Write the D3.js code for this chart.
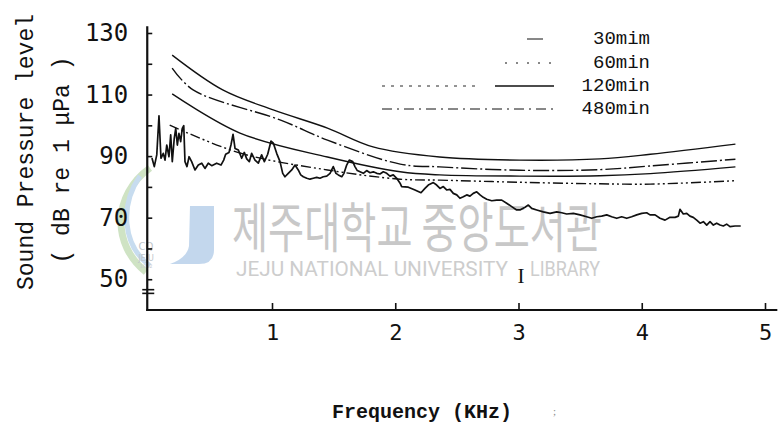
<!DOCTYPE html>
<html>
<head>
<meta charset="utf-8">
<script src="https://cdn.jsdelivr.net/npm/d3@7"></script>
<style>
  html, body { margin: 0; padding: 0; background: #fff; }
  svg { display: block; }
</style>
</head>
<body>
<svg id="chart" width="784" height="432"></svg>
<script>
// ---- data -------------------------------------------------------------
const freqTicks = [1, 2, 3, 4, 5];                       // kHz
const levelTicks = [50, 60, 70, 80, 90, 100, 110, 120, 130];
const levelLabels = [50, 70, 90, 110, 130];
const seriesNames = ["30mim", "60min", "120min", "480min"];

// threshold curves: [kHz, dB]
const curve30 = [[0.19,122.8],[0.60,111.5],[1.01,105.0],[1.45,99.1],[1.82,93.0],[2.36,89.7],[3.01,88.7],[3.66,89.1],[4.07,90.6],[4.76,93.9]];
const curve60 = [[0.19,118.6],[0.36,111.5],[1.07,101.7],[1.45,95.2],[2.04,87.4],[2.36,86.5],[3.01,85.4],[3.66,85.6],[4.07,86.8],[4.76,89.0]];
const curve120 = [[0.19,110.2],[0.74,97.5],[1.45,89.7],[2.04,84.9],[2.36,83.9],[3.01,83.5],[3.66,83.6],[4.07,84.3],[4.76,86.5]];
const curve480 = [[0.17,100.1],[0.74,91.0],[1.45,85.5],[2.04,82.5],[2.36,82.2],[3.01,81.5],[3.66,81.0],[4.07,80.9],[4.76,82.0]];

// measured ambient noise spectrum
const noiseFreq = [0.026,0.045,0.065,0.083,0.099,0.118,0.132,0.146,0.164,0.178,0.191,0.207,0.219,0.232,0.245,0.259,0.272,0.284,0.294,0.310,
  0.327,0.348,0.375,0.402,0.430,0.456,0.483,0.511,0.551,0.586,0.608,0.624,0.651,0.667,0.684,0.700,0.727,0.754,0.775,0.795,
  0.816,0.835,0.862,0.889,0.916,0.938,0.965,0.992,1.011,1.038,1.065,1.087,1.105,1.132,1.160,1.187,1.213,1.233,1.254,1.282,
  1.308,1.335,1.363,1.389,1.416,1.444,1.471,1.497,1.519,1.538,1.566,1.584,1.606,1.627,1.655,1.673,1.692,1.714,1.741,1.768,
  1.795,1.822,1.850,1.876,1.903,1.931,1.957,1.984,2.012,2.039,2.052,2.106,2.160,2.209,2.241,2.268,2.309,2.336,2.363,2.390,
  2.417,2.444,2.471,2.499,2.525,2.552,2.580,2.606,2.633,2.661,2.688,2.714,2.742,2.783,2.823,2.864,2.904,2.945,2.985,3.012,
  3.053,3.080,3.107,3.148,3.201,3.256,3.310,3.351,3.391,3.445,3.499,3.553,3.594,3.635,3.675,3.716,3.756,3.797,3.837,3.878,
  3.918,3.959,4.000,4.040,4.067,4.108,4.148,4.189,4.229,4.270,4.297,4.310,4.337,4.365,4.391,4.418,4.446,4.473,4.500,4.527,
  4.554,4.581,4.608,4.635,4.662,4.689,4.716,4.757,4.803];
const noiseLevel = [89.4,86.6,90.4,103.1,89.3,90.9,88.7,93.6,89.8,96.9,88.2,95.8,99.0,93.6,97.4,94.7,99.0,99.9,88.2,86.6,
  89.8,88.2,85.5,87.1,87.7,86.0,87.7,86.9,87.7,87.1,88.7,90.6,91.2,93.6,97.1,92.5,92.0,89.3,91.2,89.1,
  88.2,90.9,88.7,87.7,90.4,88.2,90.6,94.9,94.2,90.9,88.2,84.4,83.3,84.4,85.5,87.1,85.5,83.9,83.3,82.8,
  82.5,82.8,83.1,82.8,83.3,83.5,84.4,86.6,84.4,83.9,83.3,84.4,87.1,88.7,88.2,86.6,85.3,84.9,84.4,85.3,
  84.6,84.9,84.4,84.2,84.9,84.4,83.5,83.9,82.8,81.2,80.1,79.9,79.0,78.1,79.5,80.6,81.4,80.6,79.5,80.1,
  79.0,79.2,77.9,77.4,76.3,76.8,77.4,77.0,77.9,78.4,77.4,76.6,76.0,75.5,75.7,75.7,74.7,73.6,72.5,72.5,
  73.4,74.1,73.0,72.5,71.9,71.4,71.9,71.6,71.2,71.4,70.9,70.3,69.8,70.3,70.5,70.9,70.3,69.8,70.3,69.8,
  70.3,70.9,71.4,71.6,70.9,70.9,69.8,69.2,70.1,70.1,70.5,72.7,71.2,71.4,70.5,70.1,69.2,68.2,68.7,67.6,
  68.7,67.6,68.2,67.6,67.3,67.9,67.1,67.3,67.3];

// ---- setup ------------------------------------------------------------
const svg = d3.select("#chart");
const ink = "#111";
const x = d3.scaleLinear().domain([0, 5]).range([148.75, 765]);
const y = d3.scaleLinear().domain([40, 130]).range([310, 33]);
const axisX0 = x(0) - 1.5;   // vertical axis position

// ---- library watermark (printed behind the plot) ----------------------
const wm = svg.append("g").attr("class", "watermark");
wm.append("path")
  .attr("d", "M150,168 C112,195 112,245 146,272")
  .attr("fill", "none").attr("stroke", "#cfe3c4").attr("stroke-width", 7);
wm.append("path")
  .attr("d", "M140,176 C120,205 122,245 150,266")
  .attr("fill", "none").attr("stroke", "#c7dcef").attr("stroke-width", 5);
wm.append("path")
  .attr("d", "M190,206 L214,206 L214,250 Q214,264 199,264 L170,264 Q187,258 189,246 Z")
  .attr("fill", "#b9d0ea").attr("opacity", 0.85);
wm.append("text").attr("x", 146).attr("y", 250).attr("text-anchor", "middle")
  .attr("font-family", "DejaVu Sans").attr("font-size", 10).attr("fill", "#bfc6cc").text("CQ");
wm.append("text").attr("x", 146).attr("y", 261).attr("text-anchor", "middle")
  .attr("font-family", "DejaVu Sans").attr("font-size", 8).attr("fill", "#bfc6cc").text("JEJU");
wm.append("text").attr("x", 146).attr("y", 268).attr("text-anchor", "middle")
  .attr("font-family", "DejaVu Sans").attr("font-size", 5).attr("fill", "#c8cdd2").text("1952");
wm.append("text")
  .attr("x", 232).attr("y", 248)
  .attr("font-family", "'Noto Sans CJK KR'").attr("font-size", 54)
  .attr("textLength", 370).attr("lengthAdjust", "spacingAndGlyphs")
  .attr("fill", "#c8c8c8").text("제주대학교 중앙도서관");
wm.append("text")
  .attr("x", 236).attr("y", 276)
  .attr("font-family", "Roboto").attr("font-size", 20)
  .attr("textLength", 272).attr("lengthAdjust", "spacingAndGlyphs")
  .attr("fill", "#cdcdcd").text("JEJU NATIONAL UNIVERSITY");
wm.append("text")
  .attr("x", 530).attr("y", 276)
  .attr("font-family", "Roboto").attr("font-size", 20)
  .attr("textLength", 70).attr("lengthAdjust", "spacingAndGlyphs")
  .attr("fill", "#cdcdcd").text("LIBRARY");

// ---- axes -------------------------------------------------------------
const yAxis = d3.axisLeft(y)
  .tickValues(levelTicks)
  .tickSizeInner(-5).tickSizeOuter(0).tickPadding(19)
  .tickFormat(d => levelLabels.includes(d) ? d : "");
const gy = svg.append("g").attr("transform", `translate(${axisX0},0)`).call(yAxis);
gy.select(".domain").remove();
gy.selectAll(".tick line").attr("stroke", ink).attr("stroke-width", 1.6);
gy.selectAll(".tick text")
  .attr("font-family", "'DejaVu Sans Mono'").attr("font-size", 24).attr("fill", ink);

const xAxis = d3.axisBottom(x)
  .tickValues(freqTicks)
  .tickSizeInner(-7).tickSizeOuter(0).tickPadding(14)
  .tickFormat(d3.format("d"));
const gx = svg.append("g").attr("transform", `translate(0,${y(40)})`).call(xAxis);
gx.select(".domain").remove();
gx.selectAll(".tick line").attr("stroke", ink).attr("stroke-width", 1.6);
gx.selectAll(".tick text")
  .attr("font-family", "'DejaVu Sans Mono'").attr("font-size", 22).attr("fill", ink);

// axis lines
svg.append("line")
  .attr("x1", axisX0).attr("x2", axisX0)
  .attr("y1", y(132.2)).attr("y2", y(40) + 1)
  .attr("stroke", ink).attr("stroke-width", 2.2);
svg.append("line")
  .attr("x1", axisX0 - 1).attr("x2", x(5.1))
  .attr("y1", y(40)).attr("y2", y(40))
  .attr("stroke", ink).attr("stroke-width", 2.2);
// axis break mark
[46.6, 45.4].forEach(v => {
  svg.append("line")
    .attr("x1", axisX0 - 5).attr("x2", axisX0 + 7)
    .attr("y1", y(v)).attr("y2", y(v))
    .attr("stroke", ink).attr("stroke-width", 1.6);
});

// ---- threshold curves -------------------------------------------------
const curveGen = d3.line()
  .x(d => x(d[0])).y(d => y(d[1]))
  .curve(d3.curveCatmullRom.alpha(0.5));
const curveSet = [
  { data: curve30,  dash: null },
  { data: curve60,  dash: "16,3,2,3" },
  { data: curve120, dash: null },
  { data: curve480, dash: "10,3,2,3,2,3" }
];
svg.append("g").selectAll("path")
  .data(curveSet).join("path")
  .attr("d", d => curveGen(d.data))
  .attr("fill", "none")
  .attr("stroke", ink)
  .attr("stroke-width", 1.4)
  .attr("stroke-dasharray", d => d.dash);

// ---- noise spectrum ---------------------------------------------------
const noise = noiseFreq.map((f, i) => [f, noiseLevel[i]]);
svg.append("path")
  .datum(noise)
  .attr("d", d3.line().x(d => x(d[0])).y(d => y(d[1])))
  .attr("fill", "none")
  .attr("stroke", ink)
  .attr("stroke-width", 1.7)
  .attr("stroke-linejoin", "round");

// ---- legend -----------------------------------------------------------
const legendY = [38, 62, 85, 108];
const legend = svg.append("g");
legend.selectAll("text")
  .data(seriesNames).join("text")
  .attr("x", 650).attr("y", (d, i) => legendY[i] + 6)
  .attr("text-anchor", "end")
  .attr("font-family", "'Liberation Mono'").attr("font-size", 19)
  .attr("fill", ink)
  .text(d => d);
const samples = [
  { i: 0, x1: 527, x2: 543, dash: null, w: 1.0 },
  { i: 1, x1: 505, x2: 554, dash: "2,9", w: 1.0 },
  { i: 2, x1: 382, x2: 480, dash: "3,6", w: 0.9 },
  { i: 2, x1: 495, x2: 554, dash: null, w: 1.4 },
  { i: 3, x1: 382, x2: 554, dash: "10,5,2,5", w: 1.0 }
];
legend.selectAll("line")
  .data(samples).join("line")
  .attr("x1", d => d.x1).attr("x2", d => d.x2)
  .attr("y1", d => legendY[d.i] + 1).attr("y2", d => legendY[d.i] + 1)
  .attr("stroke", ink).attr("stroke-width", d => d.w)
  .attr("stroke-dasharray", d => d.dash);

// ---- titles -----------------------------------------------------------
svg.append("text")
  .attr("transform", "translate(33,152) rotate(-90)")
  .attr("text-anchor", "middle")
  .attr("font-family", "'Liberation Mono'").attr("font-size", 23)
  .attr("fill", ink)
  .text("Sound Pressure level");
svg.append("text")
  .attr("transform", "translate(69,160) rotate(-90)")
  .attr("text-anchor", "middle")
  .attr("font-family", "'Liberation Mono'").attr("font-size", 23)
  .attr("fill", ink)
  .text("( dB re 1 μPa )");
svg.append("text")
  .attr("x", 422).attr("y", 418)
  .attr("text-anchor", "middle")
  .attr("font-family", "'Liberation Mono'").attr("font-size", 20)
  .attr("font-weight", "bold")
  .attr("fill", ink)
  .text("Frequency (KHz)");
svg.append("text")
  .attr("x", 553).attr("y", 415)
  .attr("font-family", "'Liberation Serif'").attr("font-size", 11)
  .attr("fill", "#888").text(";");
svg.append("text")
  .attr("x", 521).attr("y", 283)
  .attr("text-anchor", "middle")
  .attr("font-family", "'Liberation Serif'").attr("font-size", 21)
  .attr("fill", ink).text("I");
</script>
</body>
</html>
